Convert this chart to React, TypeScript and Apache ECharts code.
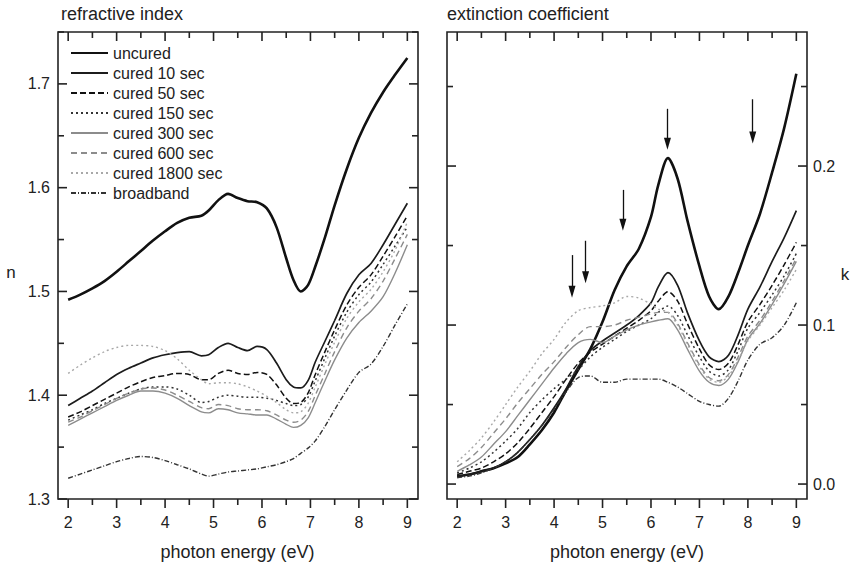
import React, { useEffect, useRef } from 'react';
import * as echarts from 'echarts';

// ---------- data: refractive index n ----------
const E_N = [2.0, 2.25, 2.5, 2.75, 3.0, 3.25, 3.5, 3.75, 4.0, 4.25, 4.5, 4.75, 4.9, 5.1, 5.3, 5.5, 5.7, 5.9, 6.1, 6.3, 6.5, 6.65, 6.8, 6.95, 7.1, 7.3, 7.5, 7.75, 8.0, 8.25, 8.5, 8.75, 9.0];
const N_UNCURED = [1.492, 1.497, 1.503, 1.510, 1.519, 1.529, 1.539, 1.549, 1.558, 1.566, 1.571, 1.573, 1.578, 1.588, 1.594, 1.590, 1.587, 1.586, 1.580, 1.562, 1.532, 1.511, 1.500, 1.506, 1.524, 1.552, 1.583, 1.618, 1.648, 1.672, 1.692, 1.709, 1.725];
const N_10 = [1.390, 1.397, 1.404, 1.412, 1.420, 1.426, 1.431, 1.436, 1.439, 1.441, 1.442, 1.438, 1.439, 1.446, 1.450, 1.446, 1.443, 1.447, 1.444, 1.431, 1.415, 1.408, 1.407, 1.414, 1.432, 1.452, 1.472, 1.498, 1.516, 1.527, 1.545, 1.565, 1.585];
const N_50 = [1.379, 1.384, 1.390, 1.396, 1.402, 1.408, 1.413, 1.417, 1.419, 1.421, 1.420, 1.415, 1.415, 1.421, 1.424, 1.421, 1.420, 1.422, 1.420, 1.410, 1.397, 1.392, 1.393, 1.402, 1.420, 1.442, 1.463, 1.487, 1.504, 1.516, 1.534, 1.553, 1.573];
const N_150 = [1.376, 1.381, 1.386, 1.392, 1.397, 1.402, 1.406, 1.408, 1.408, 1.406, 1.400, 1.393, 1.394, 1.398, 1.400, 1.399, 1.398, 1.398, 1.397, 1.395, 1.392, 1.390, 1.391, 1.398, 1.414, 1.436, 1.457, 1.480, 1.497, 1.509, 1.526, 1.544, 1.562];
const N_300 = [1.371, 1.377, 1.383, 1.389, 1.395, 1.400, 1.404, 1.404, 1.402, 1.397, 1.390, 1.384, 1.383, 1.387, 1.386, 1.383, 1.382, 1.381, 1.381, 1.377, 1.372, 1.369, 1.371, 1.378, 1.393, 1.414, 1.434, 1.455, 1.470, 1.481, 1.495, 1.518, 1.545];
const N_600 = [1.374, 1.379, 1.385, 1.391, 1.397, 1.402, 1.406, 1.407, 1.405, 1.400, 1.394, 1.388, 1.387, 1.391, 1.390, 1.387, 1.386, 1.386, 1.385, 1.381, 1.376, 1.374, 1.376, 1.384, 1.400, 1.421, 1.442, 1.465, 1.481, 1.493, 1.510, 1.532, 1.555];
const N_1800 = [1.421, 1.429, 1.436, 1.442, 1.446, 1.448, 1.448, 1.447, 1.443, 1.435, 1.424, 1.415, 1.411, 1.412, 1.412, 1.411, 1.408, 1.404, 1.399, 1.393, 1.386, 1.383, 1.384, 1.392, 1.408, 1.430, 1.451, 1.474, 1.490, 1.502, 1.519, 1.540, 1.567];
const N_BROAD = [1.320, 1.324, 1.328, 1.332, 1.336, 1.339, 1.341, 1.340, 1.337, 1.333, 1.329, 1.324, 1.322, 1.324, 1.326, 1.327, 1.328, 1.329, 1.331, 1.333, 1.336, 1.339, 1.344, 1.349, 1.356, 1.370, 1.386, 1.405, 1.422, 1.430, 1.447, 1.468, 1.488];

// ---------- data: extinction coefficient k ----------
const E_K = [2.0, 2.25, 2.5, 2.75, 3.0, 3.25, 3.5, 3.75, 4.0, 4.25, 4.5, 4.75, 5.0, 5.25, 5.5, 5.75, 6.0, 6.15, 6.35, 6.55, 6.75, 7.0, 7.2, 7.4, 7.6, 7.8, 8.0, 8.25, 8.5, 8.75, 9.0];
const K_UNCURED = [0.005, 0.006, 0.008, 0.010, 0.013, 0.017, 0.025, 0.034, 0.045, 0.059, 0.072, 0.085, 0.102, 0.122, 0.137, 0.148, 0.168, 0.188, 0.205, 0.192, 0.166, 0.137, 0.118, 0.110, 0.118, 0.133, 0.150, 0.170, 0.196, 0.224, 0.258];
const K_10 = [0.005, 0.006, 0.008, 0.010, 0.014, 0.020, 0.028, 0.037, 0.048, 0.060, 0.074, 0.084, 0.090, 0.095, 0.100, 0.106, 0.114, 0.124, 0.133, 0.125, 0.108, 0.090, 0.080, 0.077, 0.081, 0.094, 0.110, 0.124, 0.140, 0.155, 0.172];
const K_50 = [0.006, 0.008, 0.010, 0.014, 0.019, 0.026, 0.035, 0.045, 0.055, 0.066, 0.076, 0.083, 0.088, 0.093, 0.098, 0.103, 0.109, 0.115, 0.121, 0.115, 0.101, 0.085, 0.075, 0.072, 0.076, 0.088, 0.102, 0.113, 0.125, 0.138, 0.152];
const K_150 = [0.007, 0.010, 0.014, 0.020, 0.027, 0.035, 0.045, 0.053, 0.060, 0.066, 0.072, 0.080, 0.086, 0.091, 0.096, 0.100, 0.104, 0.108, 0.112, 0.106, 0.094, 0.080, 0.071, 0.068, 0.072, 0.084, 0.098, 0.108, 0.119, 0.131, 0.145];
const K_300 = [0.008, 0.012, 0.017, 0.025, 0.033, 0.043, 0.053, 0.063, 0.073, 0.082, 0.089, 0.091, 0.089, 0.093, 0.097, 0.100, 0.102, 0.103, 0.104, 0.097, 0.085, 0.071, 0.064, 0.062, 0.066, 0.077, 0.091, 0.101, 0.113, 0.126, 0.140];
const K_600 = [0.011, 0.016, 0.023, 0.032, 0.041, 0.051, 0.060, 0.069, 0.077, 0.086, 0.094, 0.099, 0.099, 0.100, 0.103, 0.105, 0.107, 0.108, 0.108, 0.101, 0.089, 0.075, 0.067, 0.065, 0.069, 0.080, 0.093, 0.103, 0.115, 0.128, 0.142];
const K_1800 = [0.014, 0.021, 0.029, 0.039, 0.050, 0.061, 0.071, 0.082, 0.091, 0.102, 0.109, 0.111, 0.112, 0.114, 0.118, 0.117, 0.113, 0.110, 0.108, 0.100, 0.088, 0.074, 0.066, 0.064, 0.068, 0.078, 0.090, 0.100, 0.111, 0.122, 0.135];
const K_BROAD = [0.004, 0.005, 0.007, 0.010, 0.014, 0.020, 0.028, 0.037, 0.047, 0.058, 0.067, 0.068, 0.064, 0.064, 0.066, 0.066, 0.066, 0.066, 0.064, 0.061, 0.057, 0.052, 0.050, 0.049, 0.054, 0.065, 0.078, 0.088, 0.092, 0.100, 0.114];

const SERIES_NAMES = ['uncured', 'cured 10 sec', 'cured 50 sec', 'cured 150 sec', 'cured 300 sec', 'cured 600 sec', 'cured 1800 sec', 'broadband'];
const N_VALUES = [N_UNCURED, N_10, N_50, N_150, N_300, N_600, N_1800, N_BROAD];
const K_VALUES = [K_UNCURED, K_10, K_50, K_150, K_300, K_600, K_1800, K_BROAD];

// arrows: [energy, k tail, k head]
const ARROWS = [
  [4.37, 0.144, 0.121],
  [4.65, 0.153, 0.130],
  [5.42, 0.185, 0.163],
  [6.34, 0.236, 0.214],
  [8.1, 0.242, 0.218],
];

// tick values
const X_MAJOR = [2, 3, 4, 5, 6, 7, 8, 9];
const X_MINOR = [2.5, 3.5, 4.5, 5.5, 6.5, 7.5, 8.5];
const N_MAJOR = [1.3, 1.4, 1.5, 1.6, 1.7];
const N_MINOR = [1.35, 1.45, 1.55, 1.65, 1.75];
const K_MAJOR = [0, 0.1, 0.2];
const K_MINOR = [0.05, 0.15, 0.25];

const LINE_STYLES = [
  { color: '#111', width: 2.6, type: 'solid' },
  { color: '#1c1c1c', width: 1.7, type: 'solid' },
  { color: '#111', width: 1.5, type: [6, 3] },
  { color: '#333', width: 1.5, type: [2, 3] },
  { color: '#8c8c8c', width: 1.4, type: 'solid' },
  { color: '#8c8c8c', width: 1.4, type: [6, 4] },
  { color: '#a8a8a8', width: 1.4, type: [2, 3] },
  { color: '#333', width: 1.4, type: [5, 2, 1, 2] },
];

const FONT = "'Liberation Sans', Arial, Helvetica, sans-serif";
const TXT = '#222';
const AX = '#222';

// custom series drawing the frame ticks at the given axis values
function tickSeries(gridIdx: number, kind: 'x' | 'y', major: number[], minor: number[], ref: number) {
  const data = kind === 'x'
    ? [...major.map((v) => [v, ref, 1]), ...minor.map((v) => [v, ref, 0])]
    : [...major.map((v) => [ref, v, 1]), ...minor.map((v) => [ref, v, 0])];
  return {
    type: 'custom', xAxisIndex: gridIdx, yAxisIndex: gridIdx, silent: true, clip: false, z: 5,
    data,
    renderItem: (params: any, api: any) => {
      const cs = params.coordSys;
      const p = api.coord([api.value(0), api.value(1)]);
      const len = api.value(2) ? 9 : 6;
      const st = { stroke: AX, lineWidth: 1.6 };
      if (kind === 'x') {
        const yb = cs.y + cs.height;
        return {
          type: 'group', children: [
            { type: 'line', shape: { x1: p[0], y1: yb, x2: p[0], y2: yb + len }, style: st },
            { type: 'line', shape: { x1: p[0], y1: cs.y, x2: p[0], y2: cs.y + len }, style: st },
          ],
        };
      }
      const xr = cs.x + cs.width;
      return {
        type: 'group', children: [
          { type: 'line', shape: { x1: cs.x, y1: p[1], x2: cs.x + len, y2: p[1] }, style: st },
          { type: 'line', shape: { x1: xr, y1: p[1], x2: xr - len, y2: p[1] }, style: st },
        ],
      };
    },
  };
}

export default function App() {
  const ref = useRef<HTMLDivElement>(null);
  useEffect(() => {
    if (!ref.current) return;
    const chart = echarts.init(ref.current, null, { renderer: 'svg' });

    const series: any[] = [];
    SERIES_NAMES.forEach((name, i) => {
      series.push({
        type: 'line', name, xAxisIndex: 0, yAxisIndex: 0,
        data: E_N.map((e, j) => [e, N_VALUES[i][j]]),
        smooth: 0.3, symbol: 'none', lineStyle: LINE_STYLES[i], itemStyle: { color: LINE_STYLES[i].color },
        silent: true,
      });
    });
    SERIES_NAMES.forEach((name, i) => {
      const s: any = {
        type: 'line', name, xAxisIndex: 1, yAxisIndex: 1,
        data: E_K.map((e, j) => [e, K_VALUES[i][j]]),
        smooth: 0.3, symbol: 'none', lineStyle: LINE_STYLES[i], itemStyle: { color: LINE_STYLES[i].color },
        silent: true,
      };
      if (i === 0) {
        s.markLine = {
          silent: true,
          symbol: ['none', 'triangle'],
          symbolSize: [7, 12],
          label: { show: false },
          lineStyle: { color: '#111', width: 1.3, type: 'solid' },
          emphasis: { disabled: true },
          data: ARROWS.map(([e, k1, k2]) => [{ coord: [e, k1] }, { coord: [e, k2] }]),
        };
      }
      series.push(s);
    });
    series.push(tickSeries(0, 'x', X_MAJOR, X_MINOR, 1.5));
    series.push(tickSeries(0, 'y', N_MAJOR, N_MINOR, 5));
    series.push(tickSeries(1, 'x', X_MAJOR, X_MINOR, 0.1));
    series.push(tickSeries(1, 'y', K_MAJOR, K_MINOR, 5));

    const xAx = (gridIndex: number) => ({
      type: 'value', gridIndex, min: 1.79, max: 9.22, position: 'bottom',
      splitLine: { show: false },
      axisLine: { show: false, onZero: false },
      axisTick: { show: false },
      axisLabel: { show: true, customValues: X_MAJOR, fontSize: 16, margin: 15, color: TXT, fontFamily: FONT },
    });

    chart.setOption({
      animation: false,
      textStyle: { fontFamily: FONT },
      grid: [
        { left: 58, top: 32, width: 360, height: 467, show: true, borderColor: AX, borderWidth: 1.6, backgroundColor: 'transparent' },
        { left: 447, top: 32, width: 360, height: 467, show: true, borderColor: AX, borderWidth: 1.6, backgroundColor: 'transparent' },
      ],
      xAxis: [xAx(0), xAx(1)],
      yAxis: [
        {
          type: 'value', gridIndex: 0, min: 1.3, max: 1.75, position: 'left',
          splitLine: { show: false }, axisLine: { show: false, onZero: false }, axisTick: { show: false },
          axisLabel: { show: true, customValues: N_MAJOR, fontSize: 16, margin: 8, color: TXT, fontFamily: FONT, formatter: (v: number) => v.toFixed(1) },
        },
        {
          type: 'value', gridIndex: 1, min: -0.0094, max: 0.2843, position: 'right',
          splitLine: { show: false }, axisLine: { show: false, onZero: false }, axisTick: { show: false },
          axisLabel: { show: true, customValues: K_MAJOR, fontSize: 16, margin: 6, color: TXT, fontFamily: FONT, formatter: (v: number) => v.toFixed(1) },
        },
      ],
      legend: {
        show: true, data: SERIES_NAMES, orient: 'vertical', left: 70, top: 45, padding: 0,
        itemWidth: 37, itemHeight: 12, itemGap: 4, selectedMode: false,
        itemStyle: { opacity: 0, borderWidth: 0 },
        textStyle: { fontSize: 16, lineHeight: 16, color: TXT, fontFamily: FONT },
      },
      graphic: [
        { type: 'text', left: 61, top: 5, style: { text: 'refractive index', fontSize: 18, fill: TXT, fontFamily: FONT } },
        { type: 'text', left: 447, top: 5, style: { text: 'extinction coefficient', fontSize: 18, fill: TXT, fontFamily: FONT } },
        { type: 'text', x: 237.5, y: 552, style: { text: 'photon energy (eV)', fontSize: 18, fill: TXT, fontFamily: FONT, align: 'center', verticalAlign: 'middle' } },
        { type: 'text', x: 627, y: 552, style: { text: 'photon energy (eV)', fontSize: 18, fill: TXT, fontFamily: FONT, align: 'center', verticalAlign: 'middle' } },
        { type: 'text', x: 11, y: 272, style: { text: 'n', fontSize: 17, fill: TXT, fontFamily: FONT, align: 'center', verticalAlign: 'middle' } },
        { type: 'text', x: 845, y: 274, style: { text: 'k', fontSize: 17, fill: TXT, fontFamily: FONT, align: 'center', verticalAlign: 'middle' } },
      ],
      series,
    });
    return () => chart.dispose();
  }, []);
  return <div ref={ref} style={{ position: 'fixed', left: 0, top: 0, width: 851, height: 565, background: '#fff' }} />;
}
